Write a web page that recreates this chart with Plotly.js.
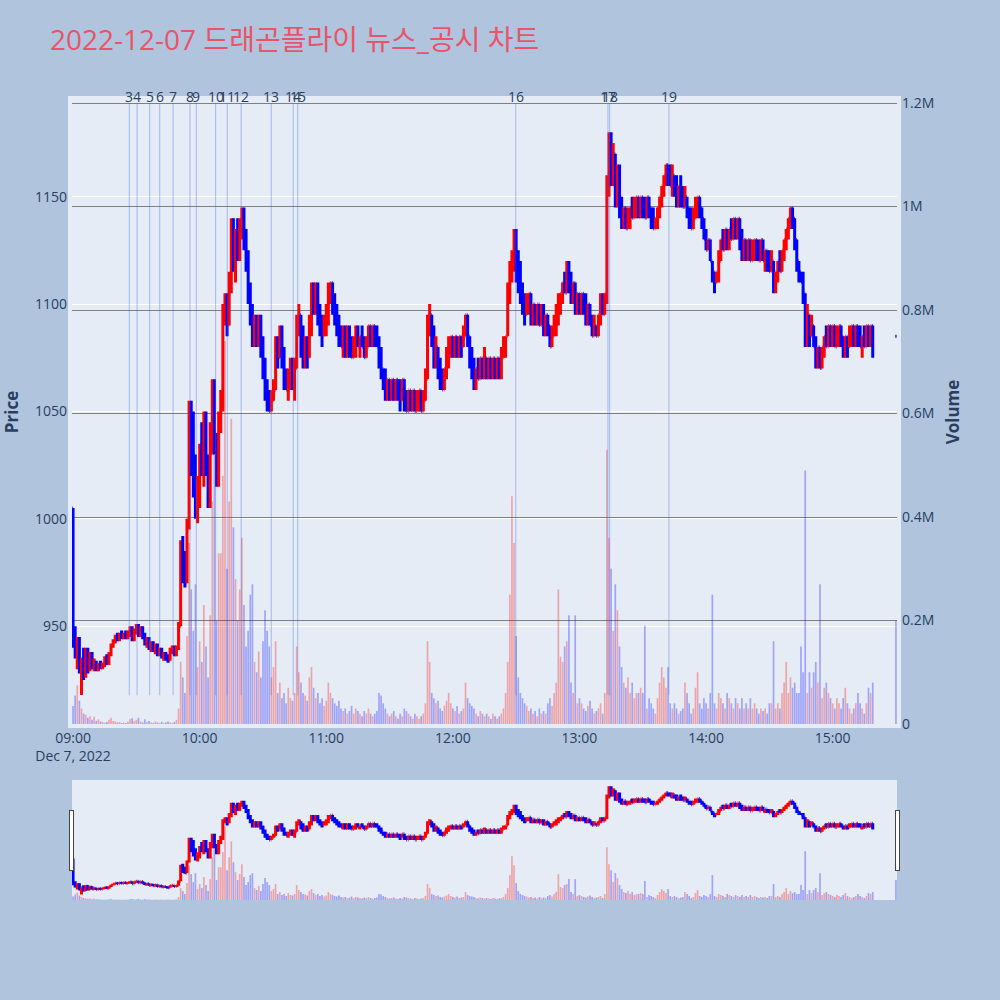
<!DOCTYPE html>
<html>
<head>
<meta charset="utf-8">
<script src="https://cdn.plot.ly/plotly-3.0.1.min.js"></script>
<style>html,body{margin:0;padding:0;background:#b0c4de;}</style>
</head>
<body>
<div id="chart" style="width:1000px;height:1000px;"></div>
<script>
// ---- data (one bar per minute from 09:00 to 15:19, then the 15:30 closing auction) ----
const tradeDate = '2022-12-07';
const auctionTime = '2022-12-07 15:30';

const open = [
1005,945,938,942,930,935,928,938,930,936,
931,933,930,932,931,933,935,933,937,941,
943,945,944,946,945,947,945,947,948,944,
948,950,946,949,945,942,944,940,942,939,
941,937,939,936,937,935,934,939,940,937,
940,950,985,975,970,998,1045,1025,1015,1005,
1010,1030,1025,1045,1025,1010,1040,1060,1035,1020,
1045,1055,1095,1100,1090,1110,1135,1120,1130,1125,
1135,1140,1130,1120,1105,1095,1085,1090,1085,1090,
1080,1070,1060,1055,1050,1055,1060,1080,1075,1085,
1075,1065,1060,1065,1070,1065,1070,1090,1095,1080,
1075,1080,1075,1090,1105,1100,1105,1095,1090,1085,
1090,1095,1105,1110,1100,1095,1090,1085,1080,1085,
1080,1085,1080,1075,1080,1085,1080,1085,1080,1075,
1080,1090,1085,1090,1085,1080,1075,1070,1065,1060,
1065,1060,1065,1060,1065,1060,1055,1065,1055,1050,
1060,1055,1060,1050,1055,1060,1050,1055,1065,1090,
1095,1085,1075,1080,1070,1065,1060,1070,1075,1080,
1085,1080,1085,1080,1085,1080,1085,1095,1085,1075,
1070,1065,1070,1065,1075,1070,1075,1070,1075,1070,
1075,1070,1075,1070,1075,1080,1085,1105,1115,1120,
1130,1115,1110,1105,1100,1095,1100,1105,1095,1100,
1095,1100,1090,1095,1090,1095,1090,1080,1085,1090,
1095,1100,1105,1110,1105,1115,1110,1105,1110,1100,
1105,1100,1105,1100,1095,1100,1090,1085,1090,1085,
1095,1100,1095,1105,1155,1175,1160,1170,1150,1160,
1145,1140,1145,1135,1140,1145,1140,1145,1150,1145,
1150,1145,1140,1150,1145,1140,1135,1140,1145,1150,
1155,1160,1165,1160,1155,1160,1155,1150,1155,1150,
1145,1150,1145,1140,1135,1140,1145,1150,1145,1140,
1130,1125,1130,1120,1115,1110,1115,1120,1130,1125,
1135,1130,1135,1130,1140,1135,1140,1130,1125,1130,
1125,1130,1120,1125,1130,1125,1120,1130,1120,1125,
1120,1115,1120,1110,1115,1120,1115,1125,1130,1135,
1140,1145,1140,1130,1120,1115,1110,1105,1085,1095,
1085,1090,1080,1075,1080,1070,1080,1085,1080,1090,
1085,1090,1080,1085,1090,1085,1080,1085,1080,1085,
1090,1085,1090,1085,1080,1085,1080,1090,1085,1090,
1085];

const high = [
1005,950,945,945,935,940,940,940,938,938,
935,934,933,934,933,936,937,938,942,944,
946,947,947,948,947,948,948,950,950,949,
951,951,950,950,947,945,945,943,943,942,
942,940,940,938,938,937,940,941,941,941,
952,990,992,985,1000,1055,1055,1050,1030,1020,
1035,1045,1050,1050,1030,1045,1065,1065,1040,1050,
1060,1100,1105,1105,1115,1140,1140,1135,1140,1140,
1145,1145,1135,1125,1110,1100,1095,1095,1095,1095,
1085,1075,1065,1060,1060,1065,1085,1085,1090,1090,
1080,1070,1070,1075,1075,1075,1095,1100,1095,1090,
1085,1085,1095,1110,1110,1110,1110,1100,1095,1095,
1100,1110,1110,1110,1105,1100,1095,1090,1090,1090,
1090,1090,1085,1085,1090,1090,1085,1090,1085,1085,
1090,1090,1090,1090,1090,1085,1080,1070,1070,1065,
1065,1065,1065,1065,1065,1065,1065,1065,1060,1060,
1060,1060,1060,1060,1060,1060,1060,1070,1095,1100,
1095,1090,1085,1080,1075,1070,1070,1080,1085,1085,
1085,1085,1085,1085,1085,1090,1095,1095,1085,1080,
1075,1070,1075,1075,1075,1080,1075,1075,1075,1075,
1075,1075,1075,1080,1085,1085,1110,1120,1125,1135,
1135,1125,1120,1110,1105,1105,1105,1105,1100,1100,
1100,1100,1100,1100,1095,1095,1090,1090,1095,1100,
1105,1105,1110,1115,1120,1120,1115,1110,1110,1105,
1105,1105,1105,1105,1100,1100,1095,1095,1090,1095,
1105,1105,1105,1160,1180,1180,1175,1170,1165,1165,
1150,1145,1145,1145,1145,1150,1150,1150,1150,1150,
1150,1150,1150,1150,1145,1145,1140,1145,1150,1155,
1160,1165,1165,1165,1165,1160,1160,1155,1160,1155,
1155,1150,1145,1145,1145,1150,1150,1150,1145,1140,
1135,1130,1130,1120,1115,1115,1125,1130,1135,1135,
1135,1135,1140,1140,1140,1140,1140,1135,1130,1130,
1130,1130,1130,1130,1130,1130,1130,1130,1125,1125,
1125,1125,1120,1115,1120,1125,1125,1130,1135,1140,
1145,1145,1140,1130,1120,1115,1115,1105,1100,1095,
1095,1090,1085,1080,1080,1080,1085,1090,1090,1090,
1090,1090,1090,1090,1090,1085,1085,1085,1090,1090,
1090,1090,1090,1090,1085,1090,1090,1090,1090,1090,
1085];

const low = [
940,935,930,928,918,925,926,928,929,930,
929,929,929,930,930,931,932,932,936,940,
942,943,943,944,944,944,944,945,943,943,
946,945,945,944,941,940,939,938,938,937,
936,936,935,934,934,933,934,937,936,936,
939,950,970,968,970,995,1020,1010,1000,998,
1005,1020,1015,1020,1005,1005,1030,1030,1015,1015,
1040,1050,1090,1085,1090,1105,1115,1110,1120,1120,
1130,1125,1115,1100,1090,1080,1080,1080,1080,1075,
1065,1055,1050,1050,1050,1055,1060,1070,1075,1070,
1060,1060,1055,1060,1060,1055,1070,1085,1075,1070,
1070,1070,1075,1085,1095,1095,1090,1085,1080,1085,
1085,1090,1100,1095,1090,1085,1080,1080,1075,1075,
1075,1075,1075,1075,1075,1080,1075,1080,1075,1075,
1080,1080,1080,1080,1080,1070,1065,1060,1055,1055,
1055,1055,1055,1055,1055,1050,1055,1050,1050,1050,
1050,1050,1050,1050,1050,1050,1050,1055,1065,1085,
1080,1070,1070,1065,1060,1060,1060,1065,1070,1075,
1075,1075,1075,1075,1075,1080,1085,1080,1070,1065,
1060,1060,1065,1065,1065,1065,1065,1065,1065,1065,
1065,1065,1065,1065,1075,1075,1085,1100,1110,1115,
1110,1105,1100,1095,1090,1095,1095,1090,1090,1090,
1090,1090,1090,1085,1085,1085,1080,1080,1085,1085,
1090,1095,1100,1105,1105,1105,1100,1100,1095,1095,
1095,1095,1095,1090,1090,1090,1085,1085,1085,1085,
1090,1095,1095,1100,1150,1155,1155,1145,1145,1140,
1135,1135,1135,1135,1135,1140,1140,1140,1140,1140,
1140,1140,1140,1140,1135,1135,1135,1135,1140,1145,
1150,1155,1155,1155,1150,1150,1145,1145,1145,1145,
1145,1140,1135,1135,1135,1140,1140,1140,1135,1130,
1125,1125,1120,1110,1105,1110,1110,1120,1125,1125,
1125,1125,1130,1130,1130,1130,1125,1120,1120,1120,
1120,1120,1120,1120,1120,1120,1120,1120,1115,1115,
1115,1115,1105,1105,1110,1115,1115,1120,1125,1130,
1135,1135,1125,1115,1110,1110,1100,1080,1080,1080,
1085,1080,1070,1070,1070,1070,1075,1080,1080,1080,
1080,1080,1080,1080,1080,1075,1075,1075,1080,1080,
1080,1080,1080,1080,1075,1080,1080,1080,1080,1075,
1085];

const close = [
945,938,942,930,935,928,938,930,936,931,
933,930,932,931,933,935,933,937,941,943,
945,944,946,945,947,945,947,948,944,948,
950,946,949,945,942,944,940,942,939,941,
937,939,936,937,935,934,939,940,937,940,
950,985,975,970,998,1045,1025,1015,1005,1010,
1030,1025,1045,1025,1010,1040,1060,1035,1020,1045,
1055,1095,1100,1090,1110,1135,1120,1130,1125,1135,
1140,1130,1120,1105,1095,1085,1090,1085,1090,1080,
1070,1060,1055,1050,1055,1060,1080,1075,1085,1075,
1065,1060,1065,1070,1065,1070,1090,1095,1080,1075,
1080,1075,1090,1105,1100,1105,1095,1090,1085,1090,
1095,1105,1110,1100,1095,1090,1085,1080,1085,1080,
1085,1080,1075,1080,1085,1080,1085,1080,1075,1080,
1090,1085,1090,1085,1080,1075,1070,1065,1060,1065,
1060,1065,1060,1065,1060,1055,1065,1055,1050,1060,
1055,1060,1050,1055,1060,1050,1055,1065,1090,1095,
1085,1075,1080,1070,1065,1060,1070,1075,1080,1085,
1080,1085,1080,1085,1080,1085,1095,1085,1075,1070,
1065,1070,1065,1075,1070,1075,1070,1075,1070,1075,
1070,1075,1070,1075,1080,1085,1105,1115,1120,1130,
1115,1110,1105,1100,1095,1100,1105,1095,1100,1095,
1100,1090,1095,1090,1095,1090,1080,1085,1090,1095,
1100,1105,1110,1105,1115,1110,1105,1110,1100,1105,
1100,1105,1100,1095,1100,1090,1085,1090,1085,1095,
1100,1095,1105,1155,1175,1160,1170,1150,1160,1145,
1140,1145,1135,1140,1145,1140,1145,1150,1145,1150,
1145,1140,1150,1145,1140,1135,1140,1145,1150,1155,
1160,1165,1160,1155,1160,1155,1150,1155,1150,1145,
1150,1145,1140,1135,1140,1145,1150,1145,1140,1130,
1125,1130,1120,1115,1110,1115,1120,1130,1125,1135,
1130,1135,1130,1140,1135,1140,1130,1125,1130,1125,
1130,1120,1125,1130,1125,1120,1130,1120,1125,1120,
1115,1120,1110,1115,1120,1115,1125,1130,1135,1140,
1145,1140,1130,1120,1115,1110,1105,1085,1095,1085,
1090,1080,1075,1080,1070,1080,1085,1080,1090,1085,
1090,1080,1085,1090,1085,1080,1085,1080,1085,1090,
1085,1090,1085,1080,1085,1080,1090,1085,1090,1085,
1085];

const volume = [
35000,55000,75000,45000,30000,20000,18000,12000,15000,8000,
14000,6000,9000,5000,4000,3000,4000,8000,12000,6000,
5000,3000,4000,2000,3000,2000,5000,9000,11000,6000,
8000,12000,5000,3000,9000,4000,6000,3000,2000,5000,
3000,2000,4000,2000,3000,5000,3000,2000,4000,8000,
30000,120000,90000,60000,170000,350000,260000,180000,270000,110000,
160000,120000,230000,150000,90000,210000,430000,520000,200000,330000,
330000,480000,740000,300000,430000,590000,380000,280000,200000,260000,
360000,230000,150000,180000,250000,270000,120000,100000,140000,90000,
160000,220000,180000,150000,90000,110000,160000,60000,80000,50000,
60000,40000,70000,50000,45000,60000,150000,100000,80000,60000,
55000,45000,90000,110000,70000,50000,60000,40000,50000,35000,
45000,80000,60000,50000,40000,35000,45000,30000,25000,30000,
20000,25000,35000,20000,30000,25000,20000,15000,25000,20000,
30000,20000,15000,20000,25000,60000,55000,40000,30000,20000,
15000,20000,25000,15000,10000,20000,15000,30000,25000,20000,
15000,10000,20000,15000,10000,15000,20000,40000,160000,120000,
60000,50000,40000,45000,30000,25000,35000,45000,60000,40000,
30000,25000,35000,20000,25000,30000,80000,50000,40000,35000,
30000,20000,15000,25000,20000,15000,20000,15000,10000,20000,
15000,10000,15000,20000,30000,60000,120000,250000,440000,350000,
170000,90000,60000,50000,40000,35000,25000,30000,20000,25000,
15000,30000,20000,25000,20000,40000,50000,35000,60000,80000,
260000,130000,120000,150000,160000,210000,80000,60000,210000,40000,
50000,40000,30000,25000,35000,45000,30000,20000,25000,30000,
40000,20000,60000,530000,360000,300000,180000,270000,220000,150000,
110000,80000,70000,90000,60000,80000,50000,60000,60000,70000,
60000,190000,30000,50000,40000,30000,20000,50000,80000,110000,
90000,70000,110000,40000,30000,40000,30000,20000,25000,30000,
80000,60000,40000,20000,30000,70000,100000,40000,30000,50000,
40000,30000,60000,250000,40000,30000,60000,50000,40000,30000,
60000,50000,40000,30000,50000,40000,30000,50000,30000,40000,
30000,50000,30000,40000,30000,20000,30000,25000,30000,20000,
40000,40000,160000,30000,40000,30000,60000,80000,120000,60000,
90000,70000,80000,60000,60000,150000,100000,490000,60000,100000,
70000,100000,120000,80000,270000,50000,70000,80000,60000,50000,
40000,30000,50000,40000,30000,50000,70000,40000,30000,20000,
30000,40000,60000,40000,30000,20000,40000,70000,60000,80000,
200000];

// news / disclosure markers
const newsIds = [3,4,5,6,7,8,9,10,11,12,13,14,15,16,17,18,19];
const newsTimes = [
'2022-12-07 09:26:40','2022-12-07 09:30:20','2022-12-07 09:36:20','2022-12-07 09:41:05',
'2022-12-07 09:47:25','2022-12-07 09:55:25','2022-12-07 09:58:25','2022-12-07 10:07:35',
'2022-12-07 10:13:05','2022-12-07 10:19:40','2022-12-07 10:33:55','2022-12-07 10:44:20',
'2022-12-07 10:46:30','2022-12-07 12:29:50','2022-12-07 13:13:30','2022-12-07 13:14:20',
'2022-12-07 13:42:25'];

// ---- build time axis: continuous minutes from 09:00, last entry is the closing auction ----
function pad2(n){return String(n).padStart(2,'0');}
const times = open.map((_, i) => {
  if (i === open.length - 1) return auctionTime;
  const h = 9 + Math.floor(i / 60), m = i % 60;
  return tradeDate + ' ' + pad2(h) + ':' + pad2(m);
});
const volColors = open.map((o, i) => close[i] > o ? 'red' : 'blue');

const traces = [
  {
    type: 'ohlc', x: times, open: open, high: high, low: low, close: close,
    xaxis: 'x', yaxis: 'y', name: 'Price',
    increasing: {line: {color: 'red', width: 3}},
    decreasing: {line: {color: 'blue', width: 3}},
    hoverinfo: 'skip'
  },
  {
    type: 'bar', x: times, y: volume, xaxis: 'x', yaxis: 'y2', name: 'Volume',
    marker: {color: volColors, line: {width: 0}}, opacity: 0.3, hoverinfo: 'skip'
  }
];

const shapes = newsTimes.map(t => ({
  type: 'line', xref: 'x', yref: 'paper', x0: t, x1: t, y0: 0.046, y1: 0.995,
  line: {color: 'royalblue', width: 1}, opacity: 0.4, layer: 'above'
}));
const annotations = newsTimes.map((t, i) => ({
  x: t, xref: 'x', yref: 'paper', y: 1.005, yanchor: 'middle', xanchor: 'center',
  text: String(newsIds[i]), showarrow: false, font: {size: 14, color: '#2a3f5f'}
}));

const layout = {
  width: 1000, height: 1000,
  paper_bgcolor: '#b0c4de', plot_bgcolor: '#e5ecf6',
  font: {family: '"Open Sans", "Noto Sans CJK KR", sans-serif', size: 14, color: '#2a3f5f'},
  title: {text: '2022-12-07 드래곤플라이 뉴스_공시 차트', x: 0.05, xanchor: 'left', y: 0.96, yanchor: 'middle',
          font: {size: 28, color: '#e8546a'}},
  margin: {l: 72, r: 103, t: 100, b: 100, pad: 4},
  showlegend: false,
  bargap: 0.2,
  xaxis: {
    type: 'date', range: ['2022-12-07 08:59:30', '2022-12-07 15:30:30'],
    showgrid: false, zeroline: false,
    rangeslider: {visible: true, bgcolor: '#e5ecf6', thickness: 0.15, borderwidth: 0}
  },
  yaxis: {
    title: {text: '<b>Price</b>', standoff: 16}, range: [904.5, 1195], dtick: 50,
    gridcolor: 'white', zeroline: false
  },
  yaxis2: {
    title: {text: '<b>Volume</b>', standoff: 17}, overlaying: 'y', side: 'right',
    range: [0, 1206000], dtick: 200000, showgrid: true, gridcolor: 'gray', zeroline: false
  },
  shapes: shapes,
  annotations: annotations
};

Plotly.newPlot('chart', traces, layout, {displayModeBar: false, staticPlot: true});
</script>
</body>
</html>
